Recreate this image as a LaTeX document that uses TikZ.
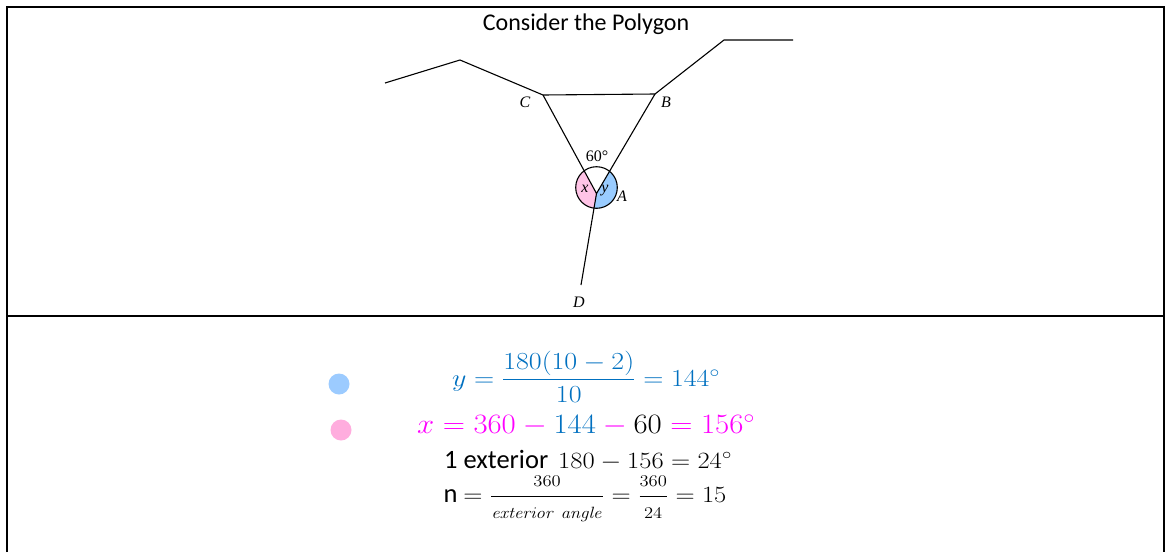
\RequirePackage{fix-cm}
\documentclass[tikz,border=0pt]{standalone}
\usepackage{amsmath}
\usepackage[no-math]{fontspec}
\setmainfont{Carlito}
\newfontfamily\tms{Liberation Serif}
\definecolor{eqblue}{HTML}{0070C0}
\definecolor{eqmag}{HTML}{FF00FF}
\definecolor{fillpink}{HTML}{FFC4E6}
\definecolor{fillblue}{HTML}{99CCFF}
\definecolor{dotblue}{HTML}{9CCBFF}
\definecolor{dotpink}{HTML}{FFADDE}
\tikzset{
  frame/.style={line width=1.6pt, black},
  edge/.style={line width=1.1pt, black, line join=miter},
  lbl/.style={font=\tms\fontsize{16}{18}\selectfont\itshape, inner sep=0pt},
  eqn/.style={inner sep=0pt},
  dot/.style={circle, inner sep=0pt, minimum size=21pt}
}
\begin{document}
\begin{tikzpicture}[x=1pt,y=-1pt]
\useasboundingbox (0,0) rectangle (1167,552);
% frame
\draw[frame] (7,552) -- (7,7) -- (1164,7) -- (1164,552);
\draw[frame] (7,316) -- (1164,316);
% title
\node[font=\fontsize{24}{28}\selectfont, inner sep=0pt] (title) at (586,24) {Consider the Polygon};
% polygon points
\coordinate (P1) at (385,83);
\coordinate (P2) at (460,60);
\coordinate (C) at (543,95);
\coordinate (B) at (655,94);
\coordinate (P3) at (724,40);
\coordinate (P4) at (793,40);
\coordinate (A) at (596.5,193.5);
\coordinate (D) at (581,285);
\coordinate (O) at (596.5,187.5);
% shaded sectors
\begin{scope}
\clip (O) circle (20.8);
\fill[fillpink] (A) -- (C) -- (480,95) -- (480,285) -- (D) -- cycle;
\fill[fillblue] (A) -- (B) -- (720,94) -- (720,285) -- (D) -- cycle;
\end{scope}
\draw[edge] (O) circle (20.8);
\draw[edge] (P1) -- (P2) -- (C) -- (B) -- (P3) -- (P4);
\draw[edge] (C) -- (A) -- (B);
\draw[edge] (A) -- (D);
% labels
\node[lbl] (lC) at (525,102) {C};
\node[lbl] (lB) at (666,102) {B};
\node[lbl] (lA) at (622,196) {A};
\node[lbl] (lD) at (579,302) {D};
\node[lbl] (lx) at (585,189) {x};
\node[lbl] (ly) at (605,191) {y};
\node[lbl, font=\tms\fontsize{16}{18}\selectfont] (l60) at (597,156) {60°};
% bullets
\node[dot, fill=dotblue] (bb) at (339,384) {};
\node[dot, fill=dotpink] (bp) at (341,430) {};
% equations
\node[eqn, text=eqblue] (eqy) at (586,377) {\scalebox{1.14}[1]{\fontsize{24.5}{28}\selectfont$y=\dfrac{180(10-2)}{10}=144^\circ$}};
\node[eqn, text=eqmag] (eqx) at (586,425) {\scalebox{1.1}[1]{\fontsize{28}{32}\selectfont$x=360-\textcolor{eqblue}{144}-\textcolor{black}{60}=156^\circ$}};
\node[eqn] (eqe) at (588,460) {\fontsize{26.5}{30}\selectfont 1 exterior\hspace{10pt}\scalebox{1.14}[1]{\fontsize{23.3}{28}\selectfont$180-156=24^\circ$}};
\node[eqn] (eqn4) at (585,499) {\fontsize{26.5}{30}\selectfont n \scalebox{1.14}[1]{\fontsize{23.3}{28}\selectfont$=\dfrac{\scriptstyle 360}{\scriptstyle \mathit{exterior\ angle}}=\dfrac{\scriptstyle 360}{\scriptstyle 24}=15$}};
\end{tikzpicture}
\end{document}
